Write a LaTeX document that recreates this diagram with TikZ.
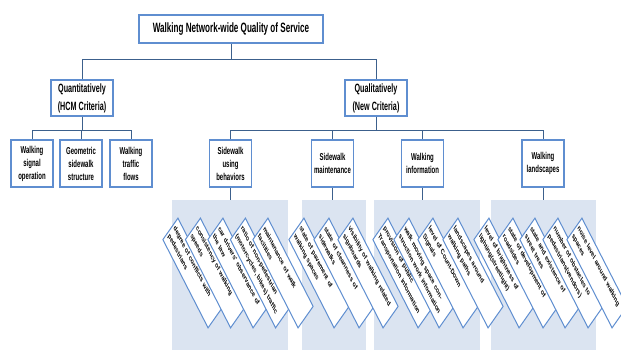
\documentclass[tikz,border=0pt]{standalone}
\usepackage{fontspec}
\setmainfont{Liberation Sans}
\newfontfamily\narrowsf[FakeStretch=0.6]{Liberation Sans}
\usetikzlibrary{calc}

\definecolor{boxblue}{RGB}{95,142,208}
\definecolor{linkblue}{RGB}{60,96,140}
\definecolor{panelblue}{RGB}{219,228,241}

\tikzset{
	box/.style={draw=boxblue, line width=1.3pt, fill=white, align=center, inner sep=1pt},
	rootbox/.style={box, minimum width=184pt, minimum height=28pt, font={\narrowsf\bfseries\fontsize{13.5}{16}\selectfont}},
	waybox/.style={box, minimum width=62pt, minimum height=36pt, font={\narrowsf\bfseries\fontsize{12}{18}\selectfont}},
	critbox/.style={box, minimum width=42pt, minimum height=47pt, text width=40pt, font={\narrowsf\bfseries\fontsize{10}{13}\selectfont}},
	panel/.style={fill=panelblue, draw=none, anchor=north, minimum height=150pt, inner sep=0pt},
	diag/.style={draw=boxblue, line width=1pt, fill=white, minimum width=116pt, minimum height=33pt, text width=110pt, inner sep=3pt, align=left, font={\bfseries\fontsize{8}{12}\selectfont}, xscale=.6, rotate=-49.5, transform shape},
	link/.style={draw=linkblue, line width=1pt}
}

\begin{document}
\begin{tikzpicture}[x=1pt, y=-1pt]
	\useasboundingbox (0,0) rectangle (621,350);
	
	\coordinate (bus1) at (0,60);
	\coordinate (bus2) at (0,131);
	
	% panels behind the criteria
	\node[panel, minimum width=116pt] (pbehav) at (230,200) {};
	\node[panel, minimum width=64pt] (pmaint) at (334,200) {};
	\node[panel, minimum width=106pt] (pinfo) at (427,200) {};
	\node[panel, minimum width=105pt] (pland) at (543.5,200) {};
	
	% boxes
	\node[rootbox] (wnqos) at (231,29) {Walking Network-wide Quality of Service};
	
	\node[waybox] (quant) at (82,98) {Quantitatively\\(HCM Criteria)};
	\node[waybox] (qual) at (376,98) {Qualitatively\\(New Criteria)};
	
	\node[critbox] (sigop) at (32,163.5) {Walking\\signal\\operation};
	\node[critbox] (geom) at (81,163.5) {Geometric\\sidewalk\\structure};
	\node[critbox] (flows) at (131,163.5) {Walking\\traffic\\flows};
	
	\node[critbox] (behav) at (230.5,163.5) {Sidewalk\\using\\behaviors};
	\node[critbox] (maint) at (332.5,163.5) {Sidewalk\\maintenance};
	\node[critbox] (info) at (422.5,163.5) {Walking\\information};
	\node[critbox] (land) at (543,163.5) {Walking\\landscapes};
	
	% connectors
	\draw[link] (wnqos.south) -- (wnqos.south |- bus1);
	\draw[link] (quant.north) |- (qual.north |- bus1) -- (qual.north);
	
	\draw[link] (quant.south) -- (quant.south |- bus2);
	\draw[link] (sigop.north) |- (flows.north |- bus2) -- (flows.north);
	\draw[link] (geom.north) -- (geom.north |- bus2);
	
	\draw[link] (qual.south) -- (qual.south |- bus2);
	\draw[link] (behav.north) |- (land.north |- bus2) -- (land.north);
	\draw[link] (maint.north) -- (maint.north |- bus2);
	\draw[link] (info.north) -- (info.north |- bus2);
	
	\draw[link] (behav.south) -- (behav.south |- pbehav.north);
	\draw[link] (maint.south) -- (maint.south |- pmaint.north);
	\draw[link] (info.south) -- (info.south |- pinfo.north);
	\draw[link] (land.south) -- (land.south |- pland.north);
	
	% leaning boxes
	\node[diag] (beh1) at (193,273) {degree of conflicts with\\pedestrians};
	\node[diag] (beh2) at (215.5,273) {consistency of walking\\speeds};
	\node[diag] (beh3) at (238,273) {car drivers' observance of\\the law};
	\node[diag] (beh4) at (260.5,273) {ratio of non-pedestrian\\(motorcycles, bikes) traffic};
	\node[diag] (beh5) at (283,273) {maintenance of walk\\facilities};
	
	\node[diag] (mnt1) at (319,273) {state of pavement of\\walking spaces};
	\node[diag] (mnt2) at (344,273) {state of cleanness of\\sidewalks};
	\node[diag] (mnt3) at (368,273) {visibility of walking related\\signboards};
	
	\node[diag] (inf1) at (403,273) {provision of public\\Transportation information};
	\node[diag] (inf2) at (424,273) {walk moving space con-\\struction work information};
	\node[diag] (inf3) at (448,273) {level of Count-Down\\Signals};
	\node[diag] (inf4) at (473,273) {landscapes around\\walking paths};
	
	\node[diag] (lsc1) at (504,273) {level of brightness of\\lighting(streetlight)};
	\node[diag] (lsc2) at (528,273) {state of development of\\roadsides};
	\node[diag] (lsc3) at (550,273) {state and existence of\\street trees};
	\node[diag] (lsc4) at (573,273) {number of obstacles to\\pedestrians(vendors)};
	\node[diag] (lsc5) at (597,273) {noise level around walking\\spaces};
\end{tikzpicture}
\end{document}
